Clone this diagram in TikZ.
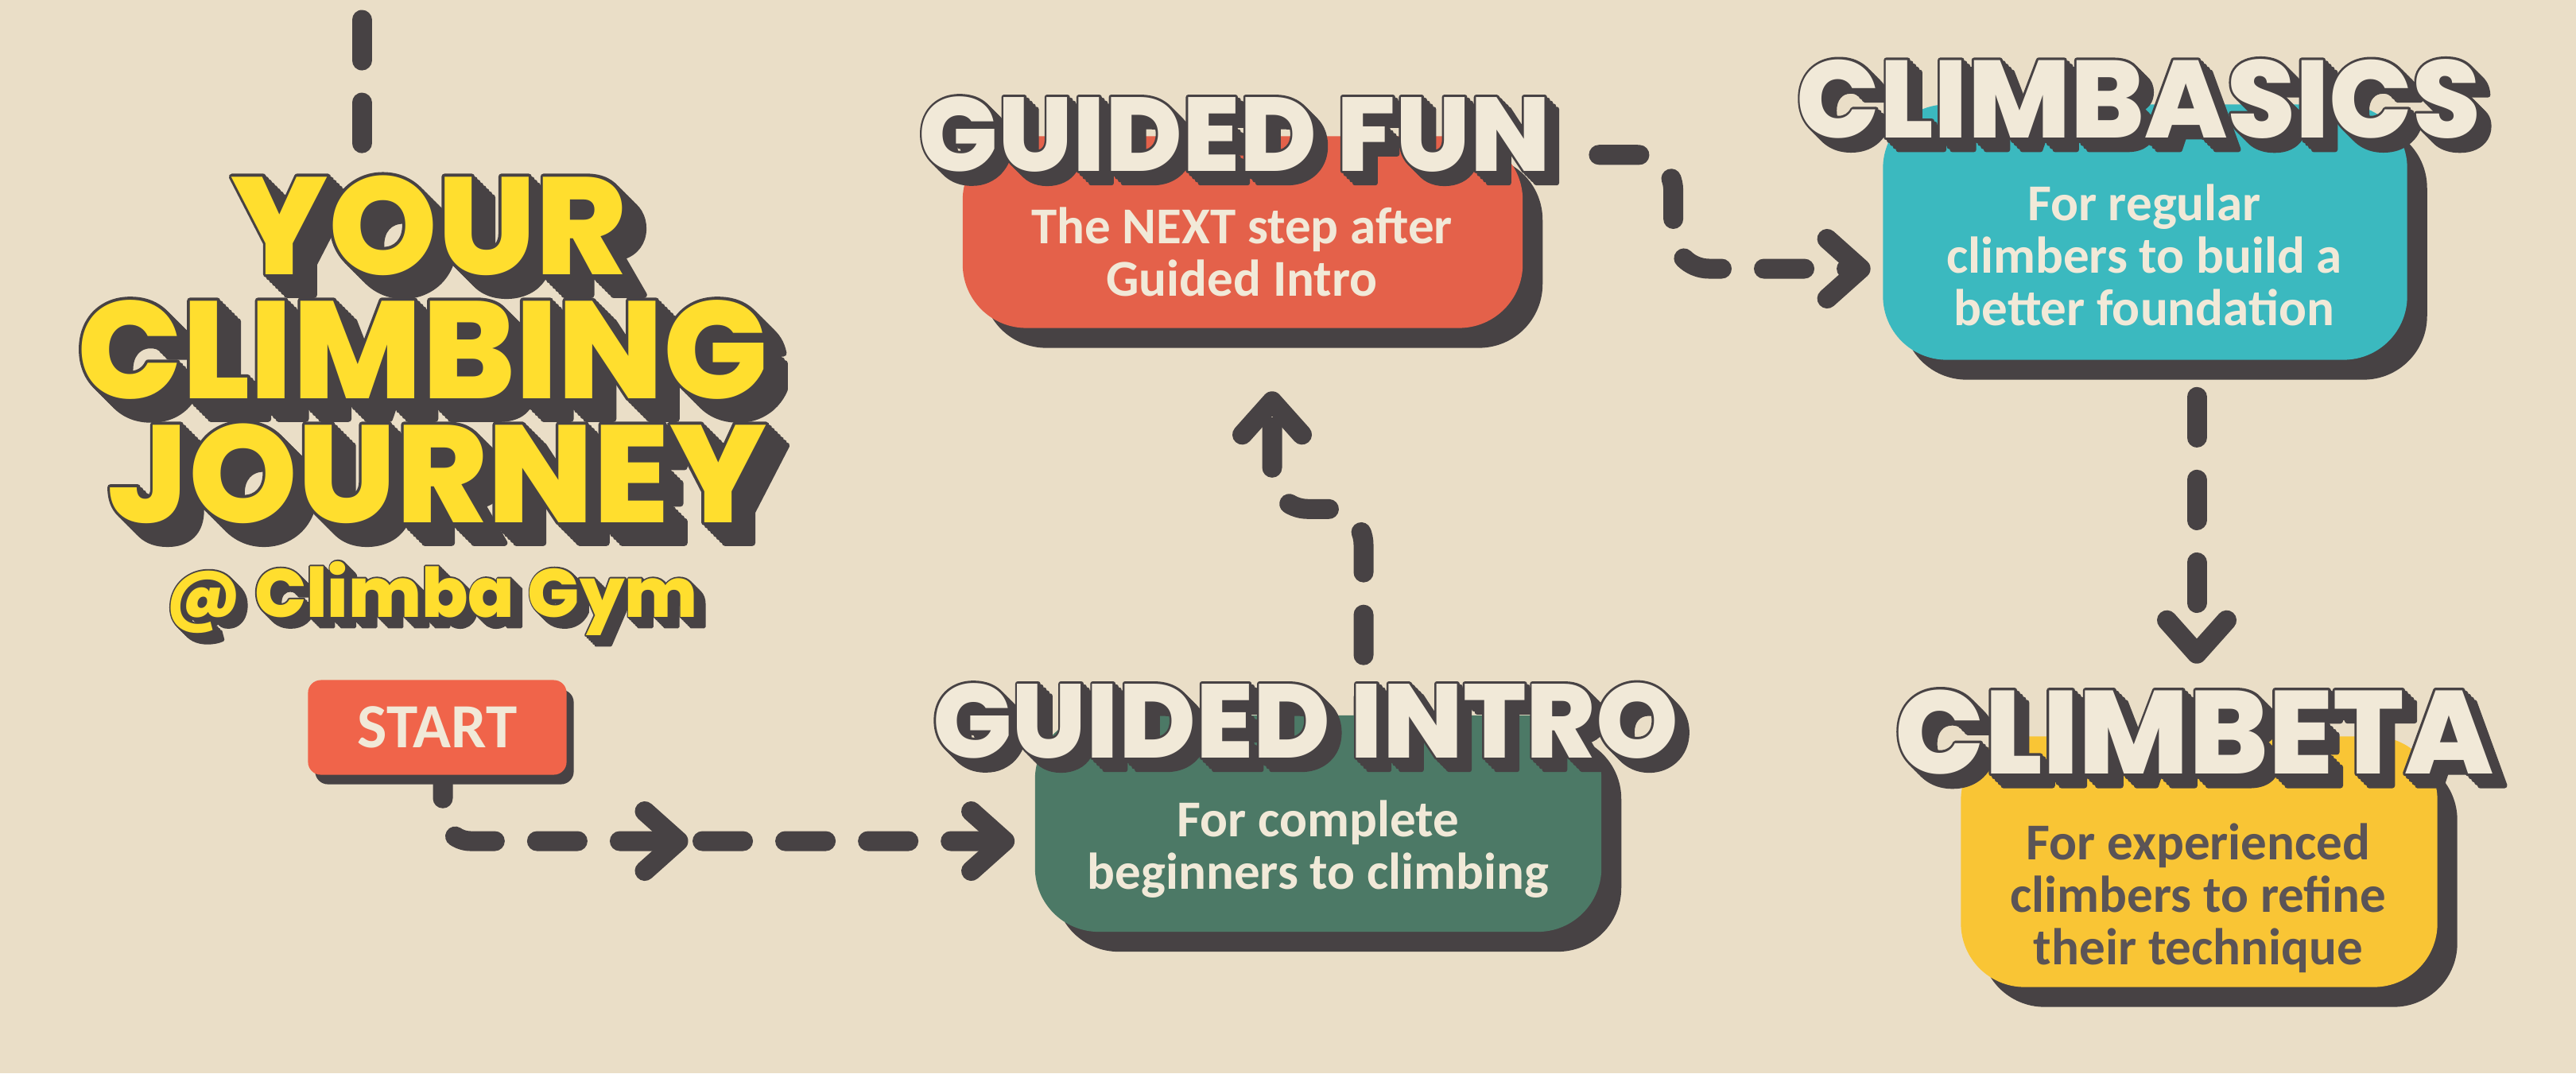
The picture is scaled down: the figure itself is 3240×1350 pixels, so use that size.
\documentclass[tikz,border=0pt]{standalone}
\usepackage{fontspec}
\newfontfamily\headfont{Poppins ExtraBold}
\newfontfamily\headrim{Poppins ExtraBold}[FakeBold=4.5]
\newfontfamily\bodyfont{Carlito}
\usetikzlibrary{calc,arrows.meta,shadows,decorations.markings}

\definecolor{paper}{HTML}{EADEC7}
\definecolor{ink}{HTML}{474244}
\definecolor{coral}{HTML}{F0644A}
\definecolor{brick}{HTML}{E4614A}
\definecolor{pine}{HTML}{4C7966}
\definecolor{lagoon}{HTML}{3BB9BF}
\definecolor{mustard}{HTML}{F9C535}
\definecolor{lemon}{HTML}{FFDE2E}
\definecolor{cream}{HTML}{F1E9D8}
\definecolor{slate}{HTML}{5B5456}

\pgfdeclarelayer{trails}
\pgfsetlayers{trails,main}

\tikzset{
  chev/.tip={Straight Barb[length=0.42cm, width=0.75cm, line cap=round, line join=round]},
  trail/.style={draw=ink, line width=0.25cm, line cap=round, line join=round,
    dash pattern=on 0.51cm off 0.53cm, rounded corners=0.45cm},
  card/.style={rounded corners=0.8cm, inner sep=0pt,
    general shadow={fill=ink, shadow xshift=0.25cm, shadow yshift=-0.25cm}},
  tab/.style={rounded corners=0.16cm, inner sep=0pt, fill=coral, text=cream,
    font=\bodyfont\bfseries\fontsize{22.5}{22.5}\selectfont,
    general shadow={fill=ink, shadow xshift=0.09cm, shadow yshift=-0.12cm}},
  blurb/.style={font=\bodyfont\bfseries\fontsize{18.5}{18.8}\selectfont,
    align=center, text=cream, inner sep=0pt},
  popink/.style={text=ink, line join=round, inner sep=0pt, anchor=base},
  popface/.style={inner sep=0pt, anchor=base},
}

% 3d lettering: stroked dark copies along the diagonal, then the face
% #1 name, #2 base point, #3 size (pt), #4 colour, #5 offsets, #6 text
\newcommand{\popword}[6]{%
  \foreach \t in {#5}
    \node[popink, font=\headrim\fontsize{#3}{#3}\selectfont] at ($(#2)+(\t,\t)$) {#6};
  \node[popface, font=\headfont\fontsize{#3}{#3}\selectfont, text=#4] (#1) at (#2) {#6};
}

\begin{document}
\begin{tikzpicture}[x=0.01cm, y=-0.01cm]
\useasboundingbox (0,0) rectangle (3240,1350);
\begin{pgfonlayer}{trails}
  \fill[paper] (0,0) rectangle (3240,1350);
\end{pgfonlayer}

% title
\popword{your}{540,345}{49.5}{lemon}{0,3.7,...,25.9}{YOUR}
\popword{climbing}{532,501}{49.5}{lemon}{0,3.7,...,25.9}{CLIMBING}
\popword{journey}{550,657}{49.5}{lemon}{0,3.7,...,25.9}{JOURNEY}
\popword{gym}{543,776}{24.5}{lemon}{0,2.5,...,12.5}{@ Climba Gym}

\node[tab, minimum width=3.25cm, minimum height=1.19cm] (start) at (550,915) {START};

% cards
\node[card, fill=brick, minimum width=7.04cm, minimum height=2.41cm] (fun) at (1563,292) {};
\node[card, fill=pine, minimum width=7.12cm, minimum height=2.72cm] (intro) at (1658,1036) {};
\node[card, fill=lagoon, minimum width=6.59cm, minimum height=3.21cm] (basics) at (2698,292) {};
\node[card, fill=mustard, minimum width=5.99cm, minimum height=3.15cm] (beta) at (2766,1084) {};

\popword{funhead}{1553,215}{37.5}{cream}{0,3.8,...,19}{GUIDED FUN}
\popword{introhead}{1642,953}{37.5}{cream}{0,3.8,...,19}{GUIDED INTRO}
\popword{basicshead}{2690,173}{39.3}{cream}{0,3.8,...,19}{CLIMBASICS}
\popword{betahead}{2760,973}{42.2}{cream}{0,3.8,...,19}{CLIMBETA}

\node[blurb] (funtext) at (1562,317) {The NEXT step after\\Guided Intro};
\node[blurb] (introtext) at (1658,1068) {For complete\\beginners to climbing};
\node[blurb] (basicstext) at (2697,321) {For regular\\climbers to build a\\better foundation};
\node[blurb, text=slate] (betatext) at (2765,1130) {For experienced\\climbers to refine\\their technique};

% trails
\begin{pgfonlayer}{trails}
  \coordinate (topa) at (455,25);
  \coordinate (topb) at (455,181);
  \draw[trail] (topa) -- (topb);
  \draw[trail, rounded corners=0.35cm, dash phase=0.22cm, -chev,
    postaction={decorate, decoration={markings, mark=at position 3.76cm with {\arrow{chev}}}}]
    ($(start.south)+(7,0)$) |- ($(intro.west)+(-25,22)$);
  \draw[trail, dash phase=0.29cm, -chev]
    ($(intro.north)+(57,0)$) |- ($(fun.south)+(37,227)$) -- ($(fun.south)+(37,79)$);
  \draw[trail, -chev]
    ($(fun.north east)+(95,24)$) -| ($(basics.west)+(-263,46)$) -- ($(basics.west)+(-15,46)$);
  \draw[trail, dash phase=0.58cm, -chev]
    ($(basics.south)+(65,0)$) -- ($(beta.north)+(-3,-91)$);
\end{pgfonlayer}
\end{tikzpicture}
\end{document}
